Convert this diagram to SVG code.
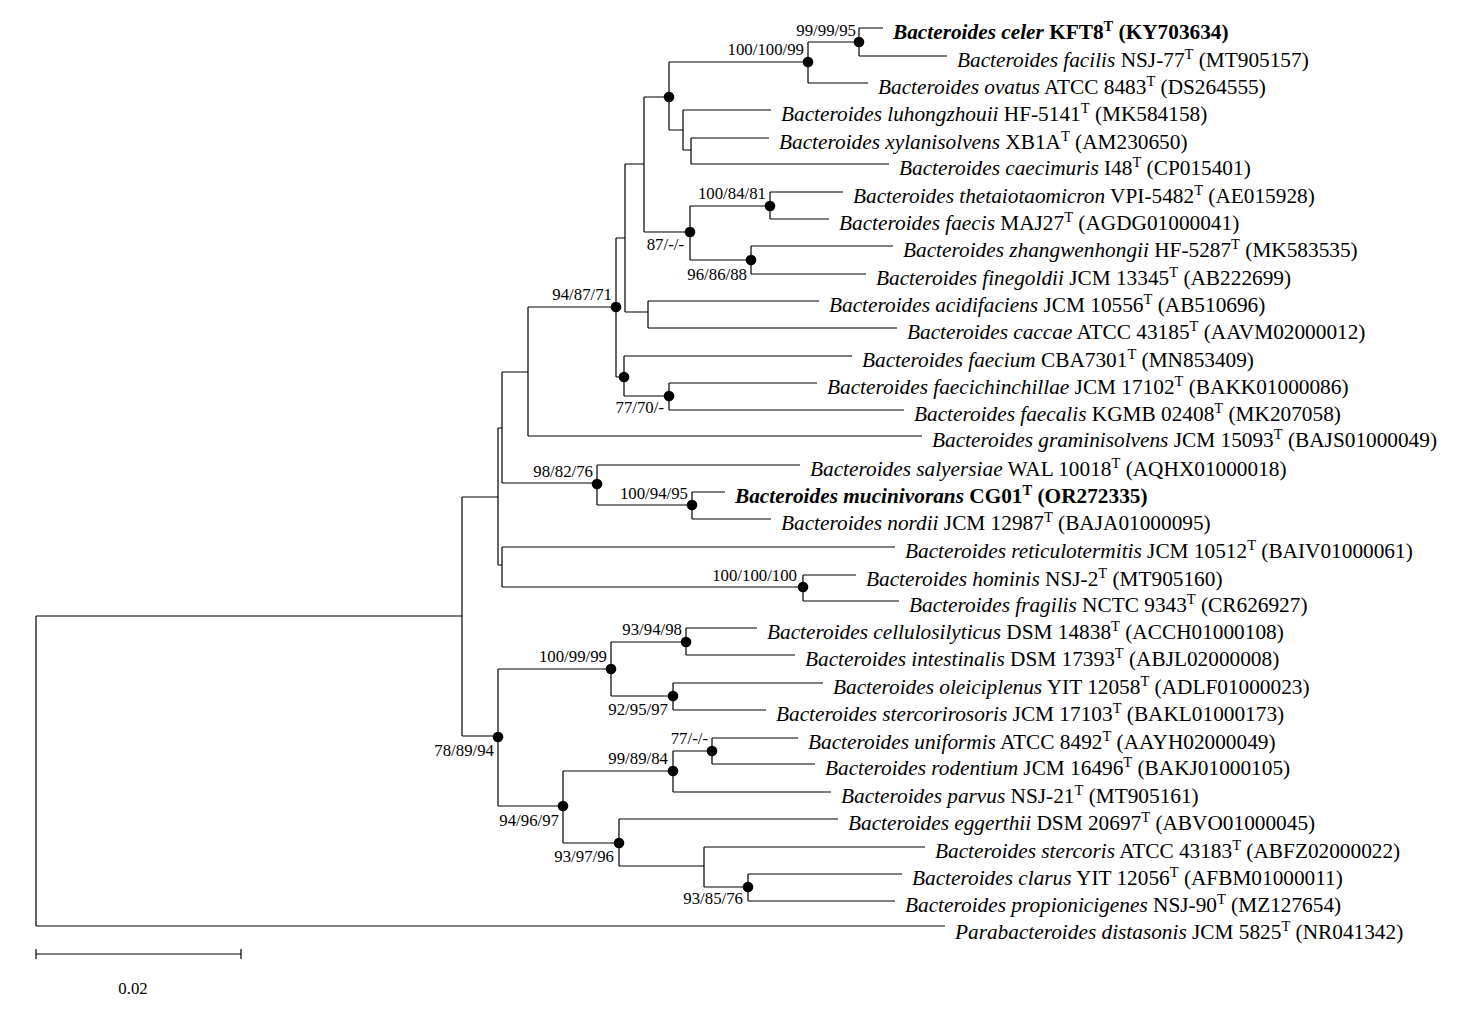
<svg xmlns="http://www.w3.org/2000/svg" width="1467" height="1016" viewBox="0 0 1467 1016">
<style>
.br{fill:none;stroke:#000;stroke-width:1.2}
.lf{font-family:"Liberation Serif","Times New Roman",serif;font-size:21.3px;fill:#000}
.sp{font-style:italic}
.bd{font-weight:bold}
.bs{font-family:"Liberation Serif","Times New Roman",serif;font-size:16.8px;fill:#000;text-anchor:end}
.dot{fill:#000}
</style>
<rect width="1467" height="1016" fill="#fff"/>
<g id="connectors" class="br">
<path d="M36,616V926M36,616H462M36,926H945"/>
<path d="M462,497V736M462,497H498M462,736H498"/>
<path d="M498,428V565M498,428H502M498,565H502"/>
<path d="M502,372V483M502,372H528M502,483H597"/>
<path d="M528,307V436M528,307H616M528,436H922"/>
<path d="M616,238V377M616,238H625M616,377H624"/>
<path d="M625,164V312M625,164H644M625,312H648"/>
<path d="M644,97V232M644,97H669M644,232H690"/>
<path d="M669,62V130M669,62H808M669,130H683"/>
<path d="M808,42V83M808,42H859M808,83H868"/>
<path d="M859,28V56M859,28H883M859,56H947"/>
<path d="M683,110V150M683,110H771M683,150H691"/>
<path d="M691,138V164M691,138H769M691,164H889"/>
<path d="M690,206V260M690,206H770M690,260H751"/>
<path d="M770,192V219M770,192H843M770,219H829"/>
<path d="M751,246V274M751,246H893M751,274H866"/>
<path d="M648,301V328M648,301H819M648,328H897"/>
<path d="M624,356V396M624,356H852M624,396H669"/>
<path d="M669,383V410M669,383H817M669,410H904"/>
<path d="M597,465V505M597,465H800M597,505H692"/>
<path d="M692,492V519M692,492H725M692,519H771"/>
<path d="M502,547V587M502,547H895M502,587H803"/>
<path d="M803,575V601M803,575H856M803,601H899"/>
<path d="M498,669V806M498,669H611M498,806H563"/>
<path d="M611,642V696M611,642H686M611,696H673"/>
<path d="M686,628V655M686,628H757M686,655H795"/>
<path d="M673,683V710M673,683H823M673,710H766"/>
<path d="M563,771V843M563,771H673M563,843H619"/>
<path d="M673,751V792M673,751H712M673,792H831"/>
<path d="M712,738V764M712,738H798M712,764H815"/>
<path d="M619,819V866M619,819H838M619,866H704"/>
<path d="M704,847V887M704,847H925M704,887H748"/>
<path d="M748,874V901M748,874H902M748,901H895"/>
<path d="M36,954H241M36,949V959M241,949V959"/>
</g>
<g id="n-J"><circle class="dot" cx="859" cy="42" r="5.3"/><text class="bs" x="856" y="36">99/99/95</text></g>
<g id="n-I"><circle class="dot" cx="808" cy="62" r="5.3"/><text class="bs" x="804" y="55">100/100/99</text></g>
<g id="n-H"><circle class="dot" cx="669" cy="97" r="5.3"/></g>
<g id="n-N"><circle class="dot" cx="770" cy="206" r="5.3"/><text class="bs" x="766" y="199">100/84/81</text></g>
<g id="n-M"><circle class="dot" cx="690" cy="232" r="5.3"/><text class="bs" x="684" y="250">87/-/-</text></g>
<g id="n-O"><circle class="dot" cx="751" cy="260" r="5.3"/><text class="bs" x="747" y="280">96/86/88</text></g>
<g id="n-E"><circle class="dot" cx="616" cy="307" r="5.3"/><text class="bs" x="612" y="300">94/87/71</text></g>
<g id="n-Q"><circle class="dot" cx="624" cy="377" r="5.3"/></g>
<g id="n-R"><circle class="dot" cx="669" cy="396" r="5.3"/><text class="bs" x="664" y="413">77/70/-</text></g>
<g id="n-S"><circle class="dot" cx="597" cy="484" r="5.3"/><text class="bs" x="593" y="477">98/82/76</text></g>
<g id="n-T"><circle class="dot" cx="692" cy="505" r="5.3"/><text class="bs" x="688" y="499">100/94/95</text></g>
<g id="n-V"><circle class="dot" cx="803" cy="587" r="5.3"/><text class="bs" x="797" y="581">100/100/100</text></g>
<g id="n-Y"><circle class="dot" cx="686" cy="642" r="5.3"/><text class="bs" x="682" y="635">93/94/98</text></g>
<g id="n-X"><circle class="dot" cx="611" cy="669" r="5.3"/><text class="bs" x="607" y="662">100/99/99</text></g>
<g id="n-Z"><circle class="dot" cx="673" cy="696" r="5.3"/><text class="bs" x="668" y="715">92/95/97</text></g>
<g id="n-W"><circle class="dot" cx="498" cy="737" r="5.3"/><text class="bs" x="494" y="756">78/89/94</text></g>
<g id="n-AC"><circle class="dot" cx="712" cy="751" r="5.3"/><text class="bs" x="708" y="744">77/-/-</text></g>
<g id="n-AB"><circle class="dot" cx="673" cy="771" r="5.3"/><text class="bs" x="668" y="764">99/89/84</text></g>
<g id="n-AA"><circle class="dot" cx="563" cy="806" r="5.3"/><text class="bs" x="559" y="826">94/96/97</text></g>
<g id="n-AD"><circle class="dot" cx="619" cy="843" r="5.3"/><text class="bs" x="614" y="862">93/97/96</text></g>
<g id="n-AF"><circle class="dot" cx="748" cy="887" r="5.3"/><text class="bs" x="743" y="904">93/85/76</text></g>
<g id="leaf-celer"><text class="lf bd" x="893" y="39"><tspan class="sp">Bacteroides celer</tspan> KFT8<tspan font-size="14.5" dy="-8">T</tspan><tspan dy="8"> (KY703634)</tspan></text></g>
<g id="leaf-facilis"><text class="lf" x="957" y="67"><tspan class="sp">Bacteroides facilis</tspan> NSJ-77<tspan font-size="14.5" dy="-8">T</tspan><tspan dy="8"> (MT905157)</tspan></text></g>
<g id="leaf-ovatus"><text class="lf" x="878" y="94"><tspan class="sp">Bacteroides ovatus</tspan> ATCC 8483<tspan font-size="14.5" dy="-8">T</tspan><tspan dy="8"> (DS264555)</tspan></text></g>
<g id="leaf-luhongzhouii"><text class="lf" x="781" y="121"><tspan class="sp">Bacteroides luhongzhouii</tspan> HF-5141<tspan font-size="14.5" dy="-8">T</tspan><tspan dy="8"> (MK584158)</tspan></text></g>
<g id="leaf-xylanisolvens"><text class="lf" x="779" y="149"><tspan class="sp">Bacteroides xylanisolvens</tspan> XB1A<tspan font-size="14.5" dy="-8">T</tspan><tspan dy="8"> (AM230650)</tspan></text></g>
<g id="leaf-caecimuris"><text class="lf" x="899" y="175"><tspan class="sp">Bacteroides caecimuris</tspan> I48<tspan font-size="14.5" dy="-8">T</tspan><tspan dy="8"> (CP015401)</tspan></text></g>
<g id="leaf-thetaiotaomicron"><text class="lf" x="853" y="203"><tspan class="sp">Bacteroides thetaiotaomicron</tspan> VPI-5482<tspan font-size="14.5" dy="-8">T</tspan><tspan dy="8"> (AE015928)</tspan></text></g>
<g id="leaf-faecis"><text class="lf" x="839" y="230"><tspan class="sp">Bacteroides faecis</tspan> MAJ27<tspan font-size="14.5" dy="-8">T</tspan><tspan dy="8"> (AGDG01000041)</tspan></text></g>
<g id="leaf-zhangwenhongii"><text class="lf" x="903" y="257"><tspan class="sp">Bacteroides zhangwenhongii</tspan> HF-5287<tspan font-size="14.5" dy="-8">T</tspan><tspan dy="8"> (MK583535)</tspan></text></g>
<g id="leaf-finegoldii"><text class="lf" x="876" y="285"><tspan class="sp">Bacteroides finegoldii</tspan> JCM 13345<tspan font-size="14.5" dy="-8">T</tspan><tspan dy="8"> (AB222699)</tspan></text></g>
<g id="leaf-acidifaciens"><text class="lf" x="829" y="312"><tspan class="sp">Bacteroides acidifaciens</tspan> JCM 10556<tspan font-size="14.5" dy="-8">T</tspan><tspan dy="8"> (AB510696)</tspan></text></g>
<g id="leaf-caccae"><text class="lf" x="907" y="339"><tspan class="sp">Bacteroides caccae</tspan> ATCC 43185<tspan font-size="14.5" dy="-8">T</tspan><tspan dy="8"> (AAVM02000012)</tspan></text></g>
<g id="leaf-faecium"><text class="lf" x="862" y="367"><tspan class="sp">Bacteroides faecium</tspan> CBA7301<tspan font-size="14.5" dy="-8">T</tspan><tspan dy="8"> (MN853409)</tspan></text></g>
<g id="leaf-faecichinchillae"><text class="lf" x="827" y="394"><tspan class="sp">Bacteroides faecichinchillae</tspan> JCM 17102<tspan font-size="14.5" dy="-8">T</tspan><tspan dy="8"> (BAKK01000086)</tspan></text></g>
<g id="leaf-faecalis"><text class="lf" x="914" y="421"><tspan class="sp">Bacteroides faecalis</tspan> KGMB 02408<tspan font-size="14.5" dy="-8">T</tspan><tspan dy="8"> (MK207058)</tspan></text></g>
<g id="leaf-graminisolvens"><text class="lf" x="932" y="447"><tspan class="sp">Bacteroides graminisolvens</tspan> JCM 15093<tspan font-size="14.5" dy="-8">T</tspan><tspan dy="8"> (BAJS01000049)</tspan></text></g>
<g id="leaf-salyersiae"><text class="lf" x="810" y="476"><tspan class="sp">Bacteroides salyersiae</tspan> WAL 10018<tspan font-size="14.5" dy="-8">T</tspan><tspan dy="8"> (AQHX01000018)</tspan></text></g>
<g id="leaf-mucinivorans"><text class="lf bd" x="735" y="503"><tspan class="sp">Bacteroides mucinivorans</tspan> CG01<tspan font-size="14.5" dy="-8">T</tspan><tspan dy="8"> (OR272335)</tspan></text></g>
<g id="leaf-nordii"><text class="lf" x="781" y="530"><tspan class="sp">Bacteroides nordii</tspan> JCM 12987<tspan font-size="14.5" dy="-8">T</tspan><tspan dy="8"> (BAJA01000095)</tspan></text></g>
<g id="leaf-reticulotermitis"><text class="lf" x="905" y="558"><tspan class="sp">Bacteroides reticulotermitis</tspan> JCM 10512<tspan font-size="14.5" dy="-8">T</tspan><tspan dy="8"> (BAIV01000061)</tspan></text></g>
<g id="leaf-hominis"><text class="lf" x="866" y="586"><tspan class="sp">Bacteroides hominis</tspan> NSJ-2<tspan font-size="14.5" dy="-8">T</tspan><tspan dy="8"> (MT905160)</tspan></text></g>
<g id="leaf-fragilis"><text class="lf" x="909" y="612"><tspan class="sp">Bacteroides fragilis</tspan> NCTC 9343<tspan font-size="14.5" dy="-8">T</tspan><tspan dy="8"> (CR626927)</tspan></text></g>
<g id="leaf-cellulosilyticus"><text class="lf" x="767" y="639"><tspan class="sp">Bacteroides cellulosilyticus</tspan> DSM 14838<tspan font-size="14.5" dy="-8">T</tspan><tspan dy="8"> (ACCH01000108)</tspan></text></g>
<g id="leaf-intestinalis"><text class="lf" x="805" y="666"><tspan class="sp">Bacteroides intestinalis</tspan> DSM 17393<tspan font-size="14.5" dy="-8">T</tspan><tspan dy="8"> (ABJL02000008)</tspan></text></g>
<g id="leaf-oleiciplenus"><text class="lf" x="833" y="694"><tspan class="sp">Bacteroides oleiciplenus</tspan> YIT 12058<tspan font-size="14.5" dy="-8">T</tspan><tspan dy="8"> (ADLF01000023)</tspan></text></g>
<g id="leaf-stercorirosoris"><text class="lf" x="776" y="721"><tspan class="sp">Bacteroides stercorirosoris</tspan> JCM 17103<tspan font-size="14.5" dy="-8">T</tspan><tspan dy="8"> (BAKL01000173)</tspan></text></g>
<g id="leaf-uniformis"><text class="lf" x="808" y="749"><tspan class="sp">Bacteroides uniformis</tspan> ATCC 8492<tspan font-size="14.5" dy="-8">T</tspan><tspan dy="8"> (AAYH02000049)</tspan></text></g>
<g id="leaf-rodentium"><text class="lf" x="825" y="775"><tspan class="sp">Bacteroides rodentium</tspan> JCM 16496<tspan font-size="14.5" dy="-8">T</tspan><tspan dy="8"> (BAKJ01000105)</tspan></text></g>
<g id="leaf-parvus"><text class="lf" x="841" y="803"><tspan class="sp">Bacteroides parvus</tspan> NSJ-21<tspan font-size="14.5" dy="-8">T</tspan><tspan dy="8"> (MT905161)</tspan></text></g>
<g id="leaf-eggerthii"><text class="lf" x="848" y="830"><tspan class="sp">Bacteroides eggerthii</tspan> DSM 20697<tspan font-size="14.5" dy="-8">T</tspan><tspan dy="8"> (ABVO01000045)</tspan></text></g>
<g id="leaf-stercoris"><text class="lf" x="935" y="858"><tspan class="sp">Bacteroides stercoris</tspan> ATCC 43183<tspan font-size="14.5" dy="-8">T</tspan><tspan dy="8"> (ABFZ02000022)</tspan></text></g>
<g id="leaf-clarus"><text class="lf" x="912" y="885"><tspan class="sp">Bacteroides clarus</tspan> YIT 12056<tspan font-size="14.5" dy="-8">T</tspan><tspan dy="8"> (AFBM01000011)</tspan></text></g>
<g id="leaf-propionicigenes"><text class="lf" x="905" y="912"><tspan class="sp">Bacteroides propionicigenes</tspan> NSJ-90<tspan font-size="14.5" dy="-8">T</tspan><tspan dy="8"> (MZ127654)</tspan></text></g>
<g id="leaf-distasonis"><text class="lf" x="955" y="939"><tspan class="sp">Parabacteroides distasonis</tspan> JCM 5825<tspan font-size="14.5" dy="-8">T</tspan><tspan dy="8"> (NR041342)</tspan></text></g>
<g id="scale"><text class="bs" x="133" y="994" style="text-anchor:middle">0.02</text></g>
</svg>
